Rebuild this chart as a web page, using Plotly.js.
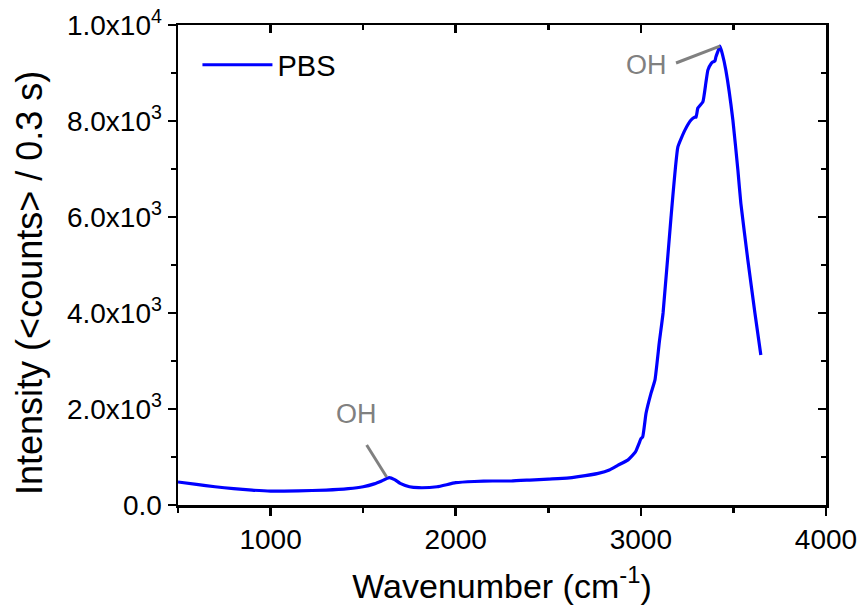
<!DOCTYPE html>
<html><head><meta charset="utf-8">
<script src="https://cdn.plot.ly/plotly-3.0.1.min.js"></script>
<style>body{margin:0;background:#fff}#c{width:865px;height:615px}</style>
</head><body><div id="c"></div>
<script>
const wavenumber = [500,600,700,800,900,1000,1150,1300,1420,1500,1560,1600,1640,1670,1700,1750,1800,1900,2000,2100,2200,2300,2400,2500,2600,2662,2770,2830,2877,2931,2970,2994,3000,3010,3028,3055,3076,3100,3120,3163,3200,3238,3271,3290,3298,3308,3335,3351,3362,3380,3389,3400,3405,3415,3427,3440,3459,3497,3524,3540,3578,3616,3648];
const intensity  = [479,430,380,340,310,290,295,310,340,380,440,500,570,530,450,380,360,380,465,490,500,500,520,540,560,590,660,730,830,940,1100,1320,1380,1420,1910,2330,2600,3400,4000,6000,7460,7810,8020,8080,8080,8270,8400,8790,9060,9200,9230,9250,9330,9440,9560,9400,9060,8020,6980,6290,5100,4000,3125];
const yTickVals = [0,2000,4000,6000,8000,10000];
const yTickText = ['0.0','2.0x10<sup>3</sup>','4.0x10<sup>3</sup>','6.0x10<sup>3</sup>','8.0x10<sup>3</sup>','1.0x10<sup>4</sup>'];
const xTickVals = [1000,2000,3000,4000];
const seriesName = 'PBS';
const peakLabel = 'OH';
const xTitle = 'Wavenumber (cm<sup>-1</sup>)';
const yTitle = 'Intensity (<counts> / 0.3 s)';
const peak1 = {x:1627, y:583, lx:1519, ly:1250, tx:1465, ty:1900};
const peak2 = {x:3427, y:9560, lx:3190, ly:9208, tx:3028, ty:9167};

const fontFam = 'Liberation Sans, Arial, sans-serif';
const axCommon = {showline:true, linecolor:'#000', linewidth:2.5, showgrid:false, zeroline:false, ticklen:8, tickwidth:2.5, tickcolor:'#000'};

const data = [
  {x:wavenumber, y:intensity, type:'scatter', mode:'lines', name:seriesName, line:{color:'#0000ff', width:3.2, shape:'spline', smoothing:0.4}},
  {x:[500], y:[0], xaxis:'x2', yaxis:'y2', type:'scatter', mode:'markers', marker:{opacity:0}, showlegend:false, hoverinfo:'skip'}
];
const layout = {
  width:865, height:615,
  margin:{l:178, r:39, t:25, b:110},
  paper_bgcolor:'#fff', plot_bgcolor:'#fff',
  font:{family:fontFam, color:'#000', size:28},
  showlegend:true,
  legend:{x:0.03, y:0.97, xanchor:'left', yanchor:'top', bgcolor:'rgba(0,0,0,0)', font:{size:29, family:fontFam}, itemwidth:70},
  xaxis:Object.assign({}, axCommon, {range:[500,4000], ticks:'outside', tickvals:xTickVals, tickfont:{size:28},
    minor:{dtick:500, tick0:0, ticks:'outside', ticklen:5, tickwidth:2.5, tickcolor:'#000'},
    title:{text:xTitle, font:{size:34}, standoff:20}}),
  yaxis:Object.assign({}, axCommon, {range:[0,10000], ticks:'outside', tickvals:yTickVals, ticktext:yTickText, tickfont:{size:28},
    minor:{dtick:1000, tick0:0, ticks:'outside', ticklen:5, tickwidth:2.5, tickcolor:'#000'}}),
  xaxis2:Object.assign({}, axCommon, {overlaying:'x', side:'top', range:[500,4000], ticks:'inside', tickvals:xTickVals, showticklabels:false,
    minor:{dtick:500, tick0:0, ticks:'inside', ticklen:5, tickwidth:2.5, tickcolor:'#000'}}),
  yaxis2:Object.assign({}, axCommon, {overlaying:'y', side:'right', range:[0,10000], ticks:'inside', tickvals:yTickVals, showticklabels:false,
    minor:{dtick:1000, tick0:0, ticks:'inside', ticklen:5, tickwidth:2.5, tickcolor:'#000'}}),
  shapes:[
    {type:'line', xref:'x', yref:'y', x0:peak1.lx, y0:peak1.ly, x1:peak1.x, y1:peak1.y, line:{color:'#808080', width:3}},
    {type:'line', xref:'x', yref:'y', x0:peak2.lx, y0:peak2.ly, x1:peak2.x, y1:peak2.y, line:{color:'#808080', width:3}}
  ],
  annotations:[
    {xref:'x', yref:'y', x:peak1.tx, y:peak1.ty, text:peakLabel, showarrow:false, font:{size:27, color:'#808080'}},
    {xref:'x', yref:'y', x:peak2.tx, y:peak2.ty, text:peakLabel, showarrow:false, font:{size:27, color:'#808080'}},
    {xref:'paper', yref:'paper', x:-0.23, y:0.4625, xanchor:'center', yanchor:'middle', text:yTitle, textangle:-90, showarrow:false, font:{size:36}}
  ]
};
Plotly.newPlot('c', data, layout, {displayModeBar:false, staticPlot:true});
</script></body></html>
